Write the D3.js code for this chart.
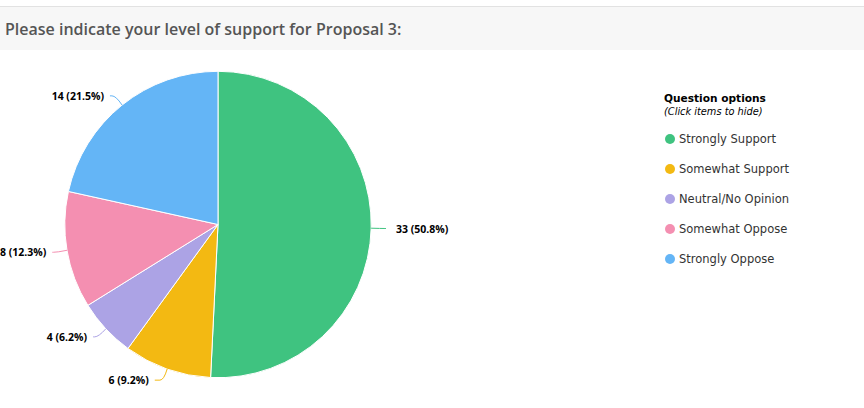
<!DOCTYPE html>
<html><head><meta charset="utf-8">
<script src="https://cdn.jsdelivr.net/npm/d3@7"></script>
<style>
html,body{margin:0;padding:0;background:#fff;}
svg{display:block;}
</style></head>
<body>
<svg id="chart" width="864" height="408"></svg>
<script>
const title = "Please indicate your level of support for Proposal 3:";
const categories = ["Strongly Support","Somewhat Support","Neutral/No Opinion","Somewhat Oppose","Strongly Oppose"];
const values = [33, 6, 4, 8, 14];
const percents = ["50.8%","9.2%","6.2%","12.3%","21.5%"];
const colors = ["#3fc380","#f3b912","#aca3e5","#f48fb1","#64b5f6"];
const legendTitle = "Question options";
const legendSub = "(Click items to hide)";

const svg = d3.select("#chart");
const W = 864, H = 408;

// header
svg.append("rect").attr("x",0).attr("y",6).attr("width",W).attr("height",44).attr("fill","#f7f7f7");
svg.append("line").attr("x1",0).attr("x2",W).attr("y1",6.5).attr("y2",6.5).attr("stroke","#e2e2e2");
svg.append("text").attr("x",5).attr("y",35).text(title)
  .attr("font-family","'Open Sans', sans-serif").attr("font-size",16).attr("font-weight",600).attr("fill","#555");

const cx = 218, cy = 224.5, r = 153.2;
const g = svg.append("g").attr("transform",`translate(${cx},${cy})`);
const pie = d3.pie().sort(null).value(d=>d)(values);
const arc = d3.arc().innerRadius(0).outerRadius(r);
g.selectAll("path.slice").data(pie).join("path").attr("class","slice")
  .attr("d",arc).attr("fill",(d,i)=>colors[i]).attr("stroke","#fff").attr("stroke-width",1).attr("stroke-linejoin","round");

// labels
const Ry = 165, Rc = 168, Rb = 163;
pie.forEach((d,i)=>{
  const a = (d.startAngle+d.endAngle)/2;
  const sx = Math.sin(a), sy = -Math.cos(a);
  const right = sx >= 0;
  const ex = r*sx, ey = r*sy;
  const yl = Ry*sy;
  const bx = Rb*sx;
  const endX = (right?1:-1)*Math.sqrt(Rc*Rc - yl*yl);
  const cEnd = bx + (right?4:-4);
  let p = `M${ex},${ey} Q${bx},${yl} ${cEnd},${yl}`;
  p += ` L${endX},${yl}`;
  g.append("path").attr("d",p).attr("fill","none").attr("stroke",colors[i]).attr("stroke-width",1);
  const gap = right?10:6;
  g.append("text").attr("x", endX + (right?gap:-gap)).attr("y", yl+4)
    .attr("text-anchor", right?"start":"end")
    .attr("font-family","'Open Sans', sans-serif").attr("font-size",10.5).attr("font-weight","bold")
    .attr("fill","#000").text(`${values[i]} (${percents[i]})`);
});

// legend
const lx = 664;
svg.append("text").attr("x",lx).attr("y",102).text(legendTitle)
  .attr("font-family","'DejaVu Sans', Verdana, sans-serif").attr("font-size",10.6).attr("font-weight","bold").attr("fill","#000");
svg.append("text").attr("x",lx).attr("y",115).text(legendSub)
  .attr("font-family","'DejaVu Sans', Verdana, sans-serif").attr("font-size",9.8).attr("font-style","italic").attr("fill","#000");
const ly = d3.scalePoint().domain(categories).range([139,259]);
const items = svg.selectAll("g.leg").data(categories).join("g").attr("class","leg")
  .attr("transform",d=>`translate(${lx},${ly(d)})`);
items.append("circle").attr("cx",6).attr("cy",0).attr("r",5).attr("fill",(d,i)=>colors[i]);
items.append("text").attr("x",15).attr("y",4).text(d=>d)
  .attr("font-family","'DejaVu Sans', Verdana, sans-serif").attr("font-size",11.5).attr("fill","#333");
</script>
</body></html>
